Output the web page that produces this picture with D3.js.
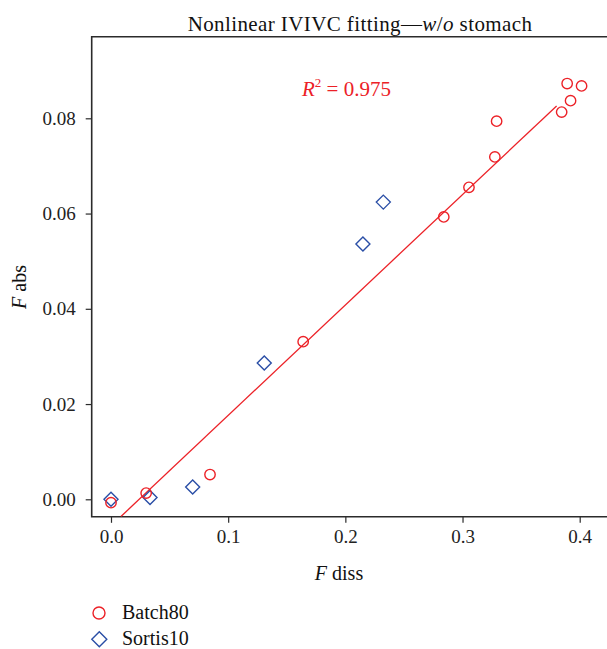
<!DOCTYPE html>
<html><head><meta charset="utf-8">
<script src="https://cdn.jsdelivr.net/npm/d3@7"></script>
<style>body{margin:0;background:#fff}svg{display:block}svg text{font-family:'Liberation Serif','Times New Roman','DejaVu Serif',serif}</style>
</head><body>
<script>
const batchX = [0.000, 0.030, 0.0845, 0.164, 0.284, 0.3055, 0.3276, 0.3291, 0.3846, 0.3893, 0.3922, 0.4016];
const batchY = [-0.0007, 0.0013, 0.0052, 0.0331, 0.0593, 0.0655, 0.0719, 0.0794, 0.0813, 0.0873, 0.0837, 0.0868];
const sortisX = [0.000, 0.0333, 0.0697, 0.1308, 0.215, 0.2324];
const sortisY = [0.0000, 0.0004, 0.0026, 0.0286, 0.0536, 0.0624];
const fitX = [0.0085, 0.3803];
const fitY = [-0.0036, 0.0826];
const xTicks = [0.0, 0.1, 0.2, 0.3, 0.4];
const yTicks = [0.00, 0.02, 0.04, 0.06, 0.08];
const title = "Nonlinear IVIVC fitting\u2014";
const r2Label = "0.975";

(function () {
const W = 607, H = 649;
const red = "#ec2127", blue = "#2a4ea6", axisCol = "#2b2b2b";

const svg = d3.select("body").append("svg").attr("width", W).attr("height", H);

const x = d3.scaleLinear().domain([0, 0.4]).range([111, 579.7]);
const y = d3.scaleLinear().domain([0, 0.08]).range([499.3, 118.3]);
const pL = 91.7, pT = 36.7, pB = 516.8, pR = W + 5;

const defs = svg.append("defs");
defs.append("clipPath").attr("id", "clip").append("rect")
  .attr("x", pL).attr("y", pT).attr("width", pR - pL).attr("height", pB - pT);

svg.append("path")
  .attr("d", `M${pR},${pT}H${pL}V${pB}H${pR}`)
  .attr("fill", "none").attr("stroke", axisCol).attr("stroke-width", 1.6);

const xAxis = svg.append("g").attr("transform", `translate(0,${pB})`)
  .call(d3.axisBottom(x).tickValues(xTicks).tickFormat(d3.format(".1f")).tickSize(6).tickPadding(7));
xAxis.select(".domain").remove();
xAxis.selectAll("line").attr("stroke", axisCol).attr("stroke-width", 1.2);
xAxis.selectAll("text").attr("font-size", 19).attr("fill", "#222");

const yAxis = svg.append("g").attr("transform", `translate(${pL},0)`)
  .call(d3.axisLeft(y).tickValues(yTicks).tickFormat(d3.format(".2f")).tickSize(6).tickPadding(10));
yAxis.select(".domain").remove();
yAxis.selectAll("line").attr("stroke", axisCol).attr("stroke-width", 1.2);
yAxis.selectAll("text").attr("font-size", 19).attr("fill", "#222");

const t = svg.append("text").attr("x", 360).attr("y", 30.5).attr("text-anchor", "middle")
  .attr("font-size", 21).attr("letter-spacing", 0.4).attr("fill", "#111");
t.append("tspan").text(title);
t.append("tspan").attr("font-style", "italic").text("w");
t.append("tspan").text("/");
t.append("tspan").attr("font-style", "italic").text("o");
t.append("tspan").text(" stomach");

const xl = svg.append("text").attr("x", 339).attr("y", 580).attr("text-anchor", "middle")
  .attr("font-size", 20).attr("fill", "#111");
xl.append("tspan").attr("font-style", "italic").text("F");
xl.append("tspan").text(" diss");

const yl = svg.append("text").attr("transform", "translate(26,287) rotate(-90)")
  .attr("text-anchor", "middle").attr("font-size", 20).attr("fill", "#111");
yl.append("tspan").attr("font-style", "italic").text("F");
yl.append("tspan").text(" abs");

const g = svg.append("g").attr("clip-path", "url(#clip)");
g.append("path").datum(d3.range(fitX.length))
  .attr("d", d3.line().x(i => x(fitX[i])).y(i => y(fitY[i])))
  .attr("fill", "none").attr("stroke", red).attr("stroke-width", 1.3);

const r2 = svg.append("text").attr("x", 302).attr("y", 95.5).attr("font-size", 21).attr("fill", red);
r2.append("tspan").attr("font-style", "italic").text("R");
r2.append("tspan").attr("font-size", 13).attr("dy", -9).text("2");
r2.append("tspan").attr("dy", 9).text(" = " + r2Label);

const diamond = (cx, cy, s) => `M${cx},${cy - s}L${cx + s},${cy}L${cx},${cy + s}L${cx - s},${cy}Z`;
svg.append("g").selectAll("path").data(d3.range(sortisX.length)).join("path")
  .attr("d", i => diamond(x(sortisX[i]), y(sortisY[i]), 7))
  .attr("fill", "none").attr("stroke", blue).attr("stroke-width", 1.4);
svg.append("g").selectAll("circle").data(d3.range(batchX.length)).join("circle")
  .attr("cx", i => x(batchX[i])).attr("cy", i => y(batchY[i])).attr("r", 5.2)
  .attr("fill", "none").attr("stroke", red).attr("stroke-width", 1.4);

const lg = svg.append("g");
lg.append("circle").attr("cx", 99).attr("cy", 613).attr("r", 6)
  .attr("fill", "none").attr("stroke", red).attr("stroke-width", 1.4);
lg.append("text").attr("x", 122).attr("y", 619).attr("font-size", 20).attr("fill", "#111").text("Batch80");
lg.append("path").attr("d", diamond(99.3, 639.3, 7.5))
  .attr("fill", "none").attr("stroke", blue).attr("stroke-width", 1.4);
lg.append("text").attr("x", 122).attr("y", 645).attr("font-size", 20).attr("fill", "#111").text("Sortis10");
})();
</script>
</body></html>
